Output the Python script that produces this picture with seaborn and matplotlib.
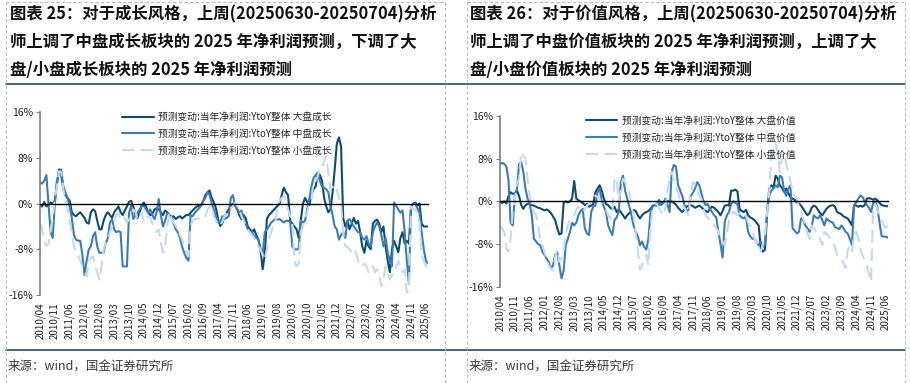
import matplotlib
matplotlib.use("Agg")
import matplotlib.pyplot as plt
import numpy as np
import pandas as pd
import seaborn as sns

# 月度数据 2010/04 - 2025/07，单位 %
months = pd.date_range("2010-04-01", periods=184, freq="MS")

growth_large = [
    -0.3, -0.5, 0.3, -0.5, -0.2, 0.2, 0.0, 0.5, 3.5, 6.0,
    5.0, 2.5, 1.5, 1.0, 0.5, -1.5, -2.0, -2.2, -1.8, -1.5,
    -2.0, -2.5, -3.3, -3.5, -1.5, -1.0, -1.3, -3.0, -4.5, -4.5,
    -3.0, -2.0, -1.5, -2.0, -2.5, -1.5, -1.0, -0.5, -1.5, -2.0,
    -1.2, -0.5, 0.3, 0.5, -0.5, -2.0, -2.5, -1.5, -0.3, 0.2,
    -0.5, -1.5, -2.0, -1.8, -1.0, -0.8, -1.0, -1.5, -2.0, -1.2,
    -1.5, -2.0, -2.5, -2.2, -2.7, -2.4, -2.2, -2.6, -2.3, -2.0,
    -2.0, -1.6, -1.2, -0.8, -0.5, -0.4, -0.2, 0.5, 1.5, 2.0,
    2.3, 1.0, 0.2, -0.8, -2.7, -3.9, -3.5, -2.2, -1.6, -1.0,
    -0.4, 0.0, -0.2, -1.0, -2.0, -2.7, -2.0, -2.5, -4.0, -4.5,
    -5.0, -4.5, -5.5, -6.3, -8.0, -11.5, -9.0, -2.7, -2.0, -1.6,
    -1.2, -0.8, -0.4, 0.0, 1.5, 2.8, 2.0, 1.5, -3.0, -3.5,
    -4.0, -4.5, -6.0, -3.0, 0.0, 1.0, 0.3, -0.3, 1.5, 2.5,
    3.0, 5.4, 5.0, 4.0, 1.0, -0.5, -1.5, -1.0, 2.0, 6.0,
    10.5, 11.6, 10.0, -2.5, -4.0, -3.0, -4.5, -3.5, -2.5, -3.5,
    -3.0, -5.0, -7.5, -8.6, -6.5, -7.5, -8.0, -3.5, -3.0, -2.8,
    -3.5, -5.0, -4.0, -7.5, -10.0, -12.0, -8.0, -6.5, -7.5, -8.5,
    -6.0, -5.0, -7.0, -6.5, -7.0, -0.5, 0.0, 0.2, -0.3, 0.0,
    -3.5, -4.0, -4.0, -4.0,
]
growth_mid = [
    3.8, 3.5, 4.0, 5.0, 0.0, -5.0, -6.0, 0.0, 4.0, 5.5,
    6.0, 3.0, 2.0, 1.0, -0.5, -2.5, -5.5, -6.3, -6.5, -6.5,
    -9.0, -12.5, -10.0, -8.0, -7.5, -5.7, -5.0, -7.5, -8.6, -8.6,
    -8.6, -7.0, -6.0, -3.3, -2.7, -4.5, -5.0, -4.8, -5.0, -11.0,
    -11.0, -11.0, -1.6, -0.4, -2.7, -2.0, -1.6, -1.0, -0.4, -0.4,
    -1.0, -1.6, -1.0, -2.0, -2.7, -1.5, 0.8, -2.0, -4.0, -3.0,
    -1.6, -2.0, -2.2, -3.5, -4.5, -5.0, -6.0, -7.5, -8.6, -9.5,
    -10.0, -2.0, -2.2, -1.6, -1.2, -0.8, -0.4, 0.5, 1.0, 2.0,
    1.5, 0.0, -1.0, -2.2, -3.3, -3.3, -2.2, -2.7, -2.5, -2.2,
    1.0, 1.5, -0.4, -1.0, -1.6, -1.2, -2.7, -3.5, -4.5, -5.0,
    -5.0, -5.7, -6.0, -6.3, -8.0, -9.0, -5.0, -4.5, -4.0, -3.3,
    -3.0, -2.7, -2.8, -2.7, -3.0, -3.3, -3.0, -3.0, -3.2, -7.5,
    -8.0, -8.0, -8.0, -3.0, -3.3, -3.0, -1.0, 0.8, 3.0, 4.5,
    5.0, 5.4, 4.0, 3.0, 2.8, 2.5, 2.0, -0.4, -2.0, -4.0,
    -4.5, -6.3, -5.5, -5.0, -6.0, -3.0, -2.7, -3.3, -4.0, -4.5,
    -5.0, -5.0, -6.0, -6.3, -5.7, -7.0, -7.5, -5.0, -4.0, -3.3,
    -4.0, -5.5, -7.5, -6.0, -8.6, -10.0, -11.0, 0.2, -0.4, -1.0,
    -1.6, -1.2, -5.0, -10.0, -14.0, -0.4, 0.0, 0.0, -0.8, -1.6,
    -5.0, -8.0, -10.0, -10.5,
]
growth_small = [
    -3.5, -4.5, -6.5, -7.4, -7.0, -4.5, -2.7, 1.0, 3.0, 5.7,
    5.5, 2.5, 0.5, -1.0, -3.0, -5.0, -7.5, -8.5, -9.0, -10.0,
    -11.0, -12.0, -12.7, -10.0, -9.5, -9.2, -11.0, -12.0, -13.3, -11.0,
    -8.0, -7.0, -6.3, -5.0, -4.0, -3.3, -2.0, -1.6, -2.7, -2.2,
    -2.5, -3.3, -2.8, -2.2, -1.0, -1.5, -2.7, -2.0, -1.5, -3.3,
    -2.5, -2.2, -2.5, -3.5, -4.0, -5.0, -4.5, -6.8, -8.6, -7.5,
    -3.9, -1.5, -2.7, -3.3, -3.9, -4.5, -5.5, -6.3, -7.5, -8.5,
    -9.2, -3.9, -3.0, -2.7, -2.7, -2.5, -2.2, -2.4, -2.2, -1.0,
    -0.6, -0.4, -2.2, -3.0, -3.5, -3.9, -3.2, -2.2, -1.5, -1.0,
    -0.8, -0.4, 0.2, -0.5, -1.0, -2.2, -3.0, -3.8, -4.5, -5.0,
    -5.5, -6.0, -7.0, -7.5, -8.0, -9.0, -9.8, -8.0, -6.3, -5.0,
    -4.0, -3.3, -0.4, 0.5, 1.0, 1.3, 0.5, -1.0, -2.2, -3.3,
    -10.0, -11.0, -10.5, -5.0, -3.9, -2.5, -1.6, 0.0, 0.8, 3.6,
    4.0, 4.8, 6.0, 6.0, 7.5, 8.4, 5.4, 2.5, 3.0, 2.0,
    2.5, 1.0, 0.0, -5.0, -7.5, -7.5, -8.0, -8.6, -8.0, -8.6,
    -10.0, -10.5, -11.0, -10.5, -11.0, -12.0, -11.5, -11.0, -12.0, -11.5,
    -12.5, -14.5, -13.0, -11.0, -12.0, -13.3, -12.5, -12.0, -11.0, -10.0,
    -11.0, -12.0, -11.5, -15.6, -15.0, -0.5, -1.0, -1.0, -2.0, -3.3,
    -9.0, -10.0, -11.0, -11.0,
]

value_large = [
    -0.2, -0.3, 0.0, -0.4, 1.0, 1.7, 1.4, 1.5, 2.0, 1.0,
    -0.7, -1.4, -0.7, -0.5, -0.5, -0.7, -0.8, -1.0, -1.2, -1.3,
    -1.5, -1.7, -1.5, -1.8, -2.2, -2.8, -3.5, -5.0, -6.2, -6.0,
    -0.3, 0.0, -0.2, 0.0, 0.5, 3.8, 0.5, 0.2, 0.0, -0.3,
    -0.7, -0.5, -1.0, -0.8, -0.5, 1.7, 2.4, 3.0, 2.0, 0.5,
    -0.5, -0.7, -1.2, -1.5, -1.0, -2.0, -1.5, -2.0, -2.6, -3.2,
    -2.6, -2.2, -2.0, -1.6, -1.8, -2.6, -3.2, -2.6, -2.2, -2.0,
    -1.8, -1.4, -0.8, -0.7, -0.8, -0.6, -0.3, -0.2, 0.0, 0.1,
    -0.2, 0.0, -0.3, -0.6, -1.2, -1.6, -2.0, -1.5, -1.0, -0.8,
    -0.7, -0.9, -1.2, -1.0, -0.8, -1.1, -1.5, -1.8, -2.0, -1.4,
    -1.0, -1.2, -1.6, -2.0, -2.6, -1.8, -0.8, -0.7, -0.8, 2.0,
    2.0, 2.2, 1.8, -1.4, -1.8, -2.0, -1.6, -2.6, -3.0, -3.2,
    -3.5, -4.0, -4.5, -8.8, -9.4, -9.0, -2.0, 2.4, 3.0, 2.6,
    4.8, 4.2, 3.0, 2.5, 1.8, 2.4, 1.5, 0.8, 0.5, 0.3,
    -0.2, -0.4, -0.8, -1.4, -2.0, -2.6, -2.2, -1.2, -0.8, -1.0,
    -1.6, -2.2, -2.6, -2.0, -1.4, -1.0, -0.8, -0.7, -1.0, -2.0,
    -2.2, -2.4, -2.8, -3.0, -3.2, -3.8, -4.5, -0.7, -0.8, -1.0,
    -0.8, -1.0, -0.7, 0.5, 0.6, 0.5, 0.3, 0.5, 0.2, -0.3,
    -0.7, -0.8, -0.9, -0.9,
]
value_mid = [
    7.0, 7.2, 7.0, 6.5, 4.0, -4.0, -4.5, 1.0, 2.4, 7.0,
    7.3, 5.5, 2.4, 0.5, -0.5, -2.6, -7.0, -7.5, -8.0, -8.2,
    -9.4, -10.0, -10.7, -11.3, -12.5, -12.0, -10.0, -9.5, -12.0, -14.4,
    -13.0, -8.2, -7.0, -5.7, -4.0, -4.5, -4.0, -2.6, -1.8, -1.4,
    -5.0, -6.0, -6.3, -2.0, -1.0, -0.8, 1.7, 2.4, 0.0, -1.0,
    -2.0, -4.5, -5.5, -6.3, -3.5, -3.0, -2.0, 3.6, 4.8, 2.0,
    0.5, -1.0, -2.6, -4.5, -5.7, -6.5, -8.2, -7.5, -8.5, -9.0,
    -7.0, -2.0, -1.0, -0.7, -0.5, 0.3, -0.7, -0.3, 0.5, -0.7,
    -2.0, 5.5, 6.8, 6.5, 3.0, 2.0, 1.0, -0.7, -2.0, -1.5,
    1.0, 1.6, 2.4, 3.6, 3.0, 1.5, 0.0, -0.7, -0.5, -1.4,
    -2.0, -2.6, -3.0, -5.7, -8.0, -10.5, -3.8, -2.6, -2.0, -0.5,
    0.0, -0.3, -0.5, -2.6, -3.0, -3.2, -2.8, -5.7, -6.5, -7.0,
    -7.0, -7.6, -8.2, -7.5, -8.5, -8.0, -1.5, 1.1, 2.0, 2.4,
    3.0, 2.6, 4.8, 4.5, 2.0, 1.0, 2.4, 3.0, -5.0, -5.5,
    -6.0, -5.7, -3.2, -3.5, -4.5, -5.0, -5.7, -4.8, -2.6, -3.0,
    -3.2, -2.6, -3.5, -4.5, -3.2, -3.6, -3.8, -4.0, -4.8, -5.0,
    -5.2, -4.5, -5.0, -5.7, -6.0, -7.0, -8.2, -0.7, -0.2, 0.5,
    1.1, 0.8, 0.0, -0.7, -1.2, -2.0, -0.3, 0.0, -1.2, -4.0,
    -6.5, -6.6, -6.6, -6.8,
]
value_small = [
    -4.5, -5.0, -5.7, -8.8, -9.4, -7.0, -2.0, 0.5, 3.5, 4.2,
    9.2, 8.5, 8.0, 4.0, 1.0, -1.0, -2.0, -2.6, -4.5, -7.0,
    -8.2, -9.5, -10.7, -12.0, -12.5, -13.0, -10.5, -9.0, -11.3, -10.5,
    -9.4, -6.0, -4.5, -3.2, -2.8, -2.6, -1.5, -1.0, -1.5, -2.0,
    -1.5, -0.8, -0.5, 0.0, 0.5, 1.1, 0.8, 0.5, -0.5, -1.0,
    -1.5, -2.6, -3.2, -2.2, 4.0, 4.4, 0.0, 2.4, 4.2, 3.6,
    2.5, 1.7, -0.7, -2.6, -6.0, -9.4, -12.8, -12.0, -11.0, -10.0,
    -12.0, -4.5, -1.5, -0.7, -0.5, -1.2, -2.0, -2.6, -1.2, 2.0,
    4.2, 5.5, 4.0, 2.5, 1.7, 0.0, -0.7, -1.2, -2.0, -2.6,
    1.5, 3.6, 3.0, 2.0, 1.0, 0.5, -1.5, -2.6, -3.0, -3.6,
    -4.0, -4.5, -5.0, -5.7, -7.0, -7.5, -8.2, -6.0, -3.6, -2.6,
    -2.0, -2.2, -2.6, -2.2, -2.6, -2.4, -2.6, -4.0, -4.5, -5.2,
    -7.0, -7.6, -8.2, -9.4, -8.0, -6.0, -2.0, 2.0, 8.6, 9.8,
    11.0, 9.2, 5.5, 8.0, 9.2, 7.0, 5.5, 3.6, 2.0, 1.0,
    0.5, -1.0, -2.0, -3.2, -4.5, -6.0, -7.0, -4.5, -5.0, -5.7,
    -6.3, -7.0, -8.2, -5.7, -6.0, -6.5, -7.0, -7.6, -8.5, -10.0,
    -10.5, -10.7, -11.5, -12.5, -9.0, -8.5, -9.5, -6.0, -5.7, -7.0,
    -9.0, -10.0, -11.3, -12.0, -13.5, -15.0, -1.0, -0.5, -1.5, -3.0,
    -3.5, -4.5, -5.0, -4.3,
]

prefix = "预测变动:当年净利润:YtoY整体 "
growth_names = ["大盘成长", "中盘成长", "小盘成长"]
value_names = ["大盘价值", "中盘价值", "小盘价值"]

titles = [
    "图表 25：对于成长风格，上周(20250630-20250704)分析\n"
    "师上调了中盘成长板块的 2025 年净利润预测，下调了大\n"
    "盘/小盘成长板块的 2025 年净利润预测",
    "图表 26：对于价值风格，上周(20250630-20250704)分析\n"
    "师上调了中盘价值板块的 2025 年净利润预测，上调了大\n"
    "盘/小盘价值板块的 2025 年净利润预测",
]
source = "来源：wind，国金证券研究所"

colors = ["#0e4c6e", "#3b7cbd", "#c3daf0"]
styles = ["-", "-", (0, (6, 3))]

sns.set_style("white")
plt.rcParams["font.family"] = ["Noto Sans CJK SC", "DejaVu Sans"]
plt.rcParams["axes.unicode_minus"] = False

fig = plt.figure(figsize=(9.1, 3.83), dpi=100)
W, H = 910, 383


def px_box(x0, y_top, x1, y_bottom):
    return [x0 / W, 1 - y_bottom / H, (x1 - x0) / W, (y_bottom - y_top) / H]


def draw_panel(ax, series, names, legend_x):
    x = np.arange(len(months))
    df = pd.DataFrame({"x": x})
    for s, n in zip(series, names):
        df[n] = s
    for i, n in enumerate(names):
        sns.lineplot(data=df, x="x", y=n, ax=ax, color=colors[i],
                     linestyle=styles[i], linewidth=1.5, label=prefix + n)
    ax.set_xlim(0, len(months) - 1)
    ax.set_ylim(-16, 16)
    ax.set_yticks([-16, -8, 0, 8, 16])
    ax.set_yticklabels([f"{v}%" for v in [-16, -8, 0, 8, 16]])
    ax.set_xlabel("")
    ax.set_ylabel("")
    for sp in ["top", "right"]:
        ax.spines[sp].set_visible(False)
    ax.spines["left"].set_color("#7f7f7f")
    ax.spines["left"].set_linewidth(1.2)
    ax.spines["bottom"].set_position(("data", 0))
    ax.spines["bottom"].set_color("black")
    ax.spines["bottom"].set_linewidth(1.0)
    ticks = x[::7]
    ax.set_xticks(ticks)
    ax.tick_params(axis="x", direction="in", length=3, color="black",
                   labelbottom=False)
    ax.tick_params(axis="y", direction="out", length=3, color="#7f7f7f",
                   labelsize=7.5, labelcolor="#222222", pad=2, left=True)
    sec = ax.secondary_xaxis(0.0)
    sec.set_xticks(ticks)
    sec.set_xticklabels([months[i].strftime("%Y/%m") for i in ticks],
                        rotation=90, fontsize=7)
    sec.tick_params(length=0, pad=5, labelcolor="#222222")
    sec.spines["bottom"].set_visible(False)
    leg = ax.legend(loc="upper left", bbox_to_anchor=(legend_x, 1.05),
                    frameon=False, fontsize=7, handlelength=3.2,
                    labelspacing=0.7, handletextpad=0.5)
    return leg


ax1 = fig.add_axes(px_box(40, 112.3, 428, 295))
draw_panel(ax1, [growth_large, growth_mid, growth_small], growth_names, 0.19)
ax2 = fig.add_axes(px_box(500, 115.7, 888, 287))
draw_panel(ax2, [value_large, value_mid, value_small], value_names, 0.2)

# 标题
fig.text(10 / W, 1 - 5 / H, titles[0], ha="left", va="top", fontsize=11.8,
         fontweight="bold", linespacing=1.72, color="#111111")
fig.text(470 / W, 1 - 5 / H, titles[1], ha="left", va="top", fontsize=11.8,
         fontweight="bold", linespacing=1.72, color="#111111")

# 分隔线与边框
navy = "#1f4e6e"
fig.add_artist(plt.Line2D([6 / W, 905 / W], [1 - 84 / H, 1 - 84 / H],
                          color=navy, linewidth=1.2))
fig.add_artist(plt.Line2D([6 / W, 905 / W], [1 - 350 / H, 1 - 350 / H],
                          color=navy, linewidth=1.2))
for xv in [6, 445, 467, 905]:
    fig.add_artist(plt.Line2D([xv / W, xv / W], [0, 1], color="#bbbbbb",
                              linewidth=0.8, linestyle=(0, (3, 2))))
for x0, x1 in [(6, 445), (467, 905)]:
    fig.add_artist(plt.Line2D([x0 / W, x1 / W], [1 - 2 / H, 1 - 2 / H],
                              color="#bbbbbb", linewidth=0.8,
                              linestyle=(0, (3, 2))))

fig.text(8 / W, 1 - 366 / H, source, ha="left", va="center", fontsize=9,
         color="#3a3a3a")
fig.text(469 / W, 1 - 366 / H, source, ha="left", va="center", fontsize=9,
         color="#3a3a3a")

fig.savefig("out.png", dpi=100)
